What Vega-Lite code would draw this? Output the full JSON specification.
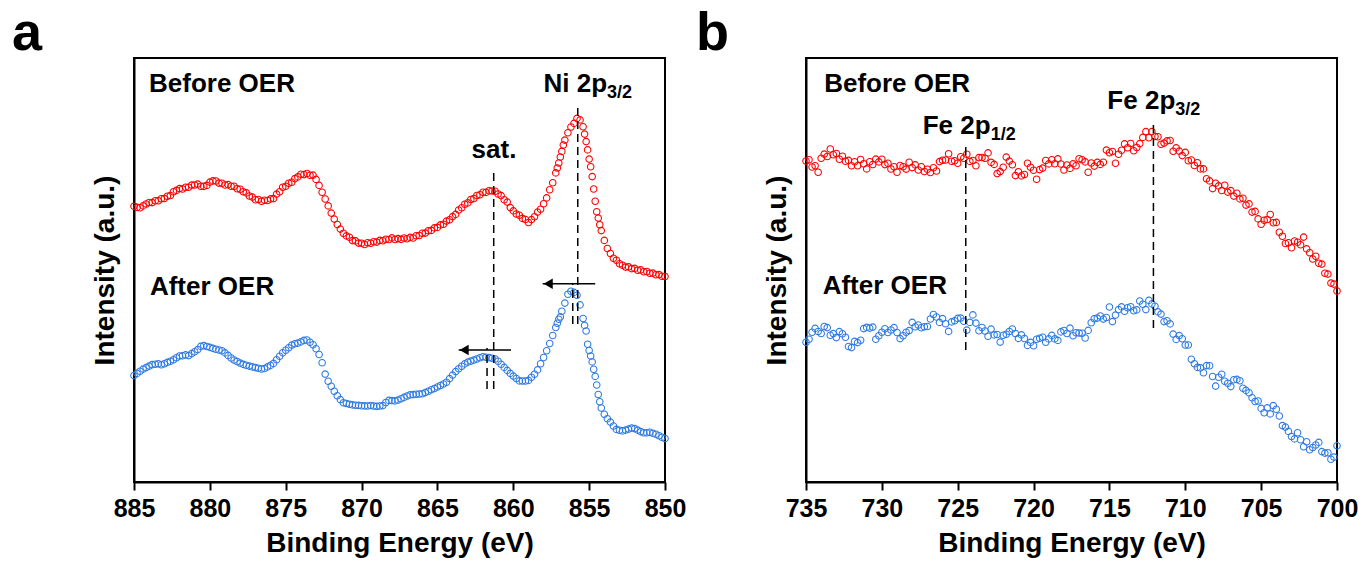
{
"$schema":"https://vega.github.io/schema/vega-lite/v6.json",
"padding":{"left":11,"top":6,"right":20,"bottom":2},
"spacing":141,
"bounds":"flush",
"config":{"view":{"stroke":"black","strokeWidth":2},"font":"Liberation Sans",
"axis":{"domainColor":"black","domainWidth":2,"tickColor":"black","tickWidth":2,"labelFont":"Liberation Sans","labelFontWeight":"bold","labelFontSize":25,"labelColor":"black","titleFont":"Liberation Sans","titleFontWeight":"bold","titleFontSize":28,"titleColor":"black","grid":false}},
"datasets":{
"niB":[{"x":885,"y":275.8},{"x":884.8,"y":274.6},{"x":884.6,"y":274.2},{"x":884.4,"y":276.1},{"x":884.2,"y":278},{"x":884,"y":279.5},{"x":883.8,"y":279.4},{"x":883.6,"y":281.3},{"x":883.4,"y":281.2},{"x":883.2,"y":283.3},{"x":883,"y":283.5},{"x":882.8,"y":285.7},{"x":882.6,"y":286.5},{"x":882.4,"y":290.2},{"x":882.2,"y":291.6},{"x":882,"y":293.4},{"x":881.8,"y":293},{"x":881.6,"y":294.7},{"x":881.4,"y":294.8},{"x":881.2,"y":296.9},{"x":881,"y":297},{"x":880.8,"y":297.9},{"x":880.6,"y":295.7},{"x":880.4,"y":295.6},{"x":880.2,"y":296.6},{"x":880,"y":299.9},{"x":879.8,"y":301.1},{"x":879.6,"y":301},{"x":879.4,"y":298.9},{"x":879.2,"y":298.8},{"x":879,"y":297},{"x":878.8,"y":297.4},{"x":878.6,"y":295.8},{"x":878.4,"y":295.8},{"x":878.2,"y":293.3},{"x":878,"y":292.8},{"x":877.8,"y":290.2},{"x":877.6,"y":289.1},{"x":877.4,"y":286},{"x":877.2,"y":284.9},{"x":877,"y":282.3},{"x":876.8,"y":282.5},{"x":876.6,"y":280.8},{"x":876.4,"y":281.8},{"x":876.2,"y":281.5},{"x":876,"y":283.1},{"x":875.8,"y":283.4},{"x":875.6,"y":287.9},{"x":875.4,"y":290.3},{"x":875.2,"y":294.7},{"x":875,"y":295.8},{"x":874.8,"y":298.8},{"x":874.6,"y":299.8},{"x":874.4,"y":303.4},{"x":874.2,"y":305.1},{"x":874,"y":307.8},{"x":873.8,"y":307.4},{"x":873.6,"y":308.5},{"x":873.4,"y":306.7},{"x":873.2,"y":306.9},{"x":873,"y":302.6},{"x":872.8,"y":296.6},{"x":872.6,"y":289.7},{"x":872.4,"y":283},{"x":872.2,"y":276.1},{"x":872,"y":268.9},{"x":871.8,"y":262.9},{"x":871.6,"y":257.5},{"x":871.4,"y":252.9},{"x":871.2,"y":248.8},{"x":871,"y":246.1},{"x":870.8,"y":244.7},{"x":870.6,"y":241.4},{"x":870.4,"y":241.1},{"x":870.2,"y":238.9},{"x":870,"y":238.7},{"x":869.8,"y":237.5},{"x":869.6,"y":239.2},{"x":869.4,"y":238.7},{"x":869.2,"y":240.3},{"x":869,"y":239.9},{"x":868.8,"y":241.6},{"x":868.6,"y":241.2},{"x":868.4,"y":242.8},{"x":868.2,"y":242.5},{"x":868,"y":244.1},{"x":867.8,"y":242.5},{"x":867.6,"y":243.4},{"x":867.4,"y":242.6},{"x":867.2,"y":244},{"x":867,"y":243.3},{"x":866.8,"y":244.6},{"x":866.6,"y":244},{"x":866.4,"y":246.2},{"x":866.2,"y":246.5},{"x":866,"y":248.7},{"x":865.8,"y":248.9},{"x":865.6,"y":251.2},{"x":865.4,"y":251.6},{"x":865.2,"y":254.1},{"x":865,"y":254.6},{"x":864.8,"y":257.1},{"x":864.6,"y":257.7},{"x":864.4,"y":260.9},{"x":864.2,"y":262.2},{"x":864,"y":265.4},{"x":863.8,"y":267.6},{"x":863.6,"y":272},{"x":863.4,"y":274.3},{"x":863.2,"y":277.8},{"x":863,"y":279.1},{"x":862.8,"y":282.5},{"x":862.6,"y":283.5},{"x":862.4,"y":286.5},{"x":862.2,"y":287.2},{"x":862,"y":289.8},{"x":861.8,"y":289.6},{"x":861.6,"y":291.3},{"x":861.4,"y":291},{"x":861.2,"y":290.8},{"x":861,"y":288},{"x":860.8,"y":286.4},{"x":860.6,"y":282.3},{"x":860.4,"y":279.9},{"x":860.2,"y":274.4},{"x":860,"y":271.1},{"x":859.8,"y":268},{"x":859.6,"y":266.8},{"x":859.4,"y":263.6},{"x":859.2,"y":262.5},{"x":859,"y":259.5},{"x":858.8,"y":262.4},{"x":858.6,"y":265.2},{"x":858.4,"y":269.9},{"x":858.2,"y":272.8},{"x":858,"y":278.3},{"x":857.8,"y":284.1},{"x":857.6,"y":292.3},{"x":857.4,"y":299.3},{"x":857.2,"y":309.1},{"x":857.1,"y":314},{"x":857,"y":319},{"x":856.9,"y":325},{"x":856.8,"y":330.6},{"x":856.7,"y":337},{"x":856.6,"y":341.9},{"x":856.4,"y":349.2},{"x":856.2,"y":355},{"x":856,"y":358.6},{"x":855.8,"y":363.6},{"x":855.6,"y":362.1},{"x":855.4,"y":355.2},{"x":855.3,"y":347.9},{"x":855.2,"y":340.4},{"x":855.1,"y":332.1},{"x":855,"y":322.9},{"x":854.9,"y":315.2},{"x":854.8,"y":305.4},{"x":854.7,"y":293},{"x":854.6,"y":280.7},{"x":854.5,"y":270.2},{"x":854.4,"y":263.9},{"x":854.3,"y":257.3},{"x":854.2,"y":251.4},{"x":854,"y":241.6},{"x":853.8,"y":233.5},{"x":853.6,"y":228.5},{"x":853.4,"y":223.8},{"x":853.2,"y":221.8},{"x":853,"y":218.3},{"x":852.8,"y":216.8},{"x":852.6,"y":214.9},{"x":852.4,"y":215.1},{"x":852.2,"y":213.4},{"x":852,"y":213.6},{"x":851.8,"y":211.8},{"x":851.6,"y":212.1},{"x":851.4,"y":210.3},{"x":851.2,"y":210.5},{"x":851,"y":208.7},{"x":850.8,"y":208.9},{"x":850.6,"y":207.2},{"x":850.4,"y":207.4},{"x":850.2,"y":205.7},{"x":850,"y":205.5}],
"niA":[{"x":885,"y":106.5},{"x":884.8,"y":108.6},{"x":884.6,"y":110.8},{"x":884.4,"y":112.9},{"x":884.2,"y":114.4},{"x":884,"y":115.9},{"x":883.8,"y":117.4},{"x":883.6,"y":117.7},{"x":883.4,"y":118.2},{"x":883.2,"y":117.2},{"x":883,"y":118.3},{"x":882.8,"y":119.6},{"x":882.6,"y":120.8},{"x":882.4,"y":122.2},{"x":882.2,"y":124.2},{"x":882,"y":126},{"x":881.8,"y":126.3},{"x":881.6,"y":127.1},{"x":881.4,"y":126.4},{"x":881.2,"y":128.4},{"x":881,"y":130.2},{"x":880.8,"y":132.4},{"x":880.6,"y":135.6},{"x":880.4,"y":136.4},{"x":880.2,"y":135.5},{"x":880,"y":134.6},{"x":879.8,"y":133.6},{"x":879.6,"y":132.8},{"x":879.4,"y":132},{"x":879.2,"y":131.2},{"x":879,"y":129.1},{"x":878.8,"y":126.6},{"x":878.6,"y":124},{"x":878.4,"y":122},{"x":878.2,"y":120.5},{"x":878,"y":118.9},{"x":877.8,"y":117.6},{"x":877.6,"y":116.8},{"x":877.4,"y":115.9},{"x":877.2,"y":115.1},{"x":877,"y":114.4},{"x":876.8,"y":113.7},{"x":876.6,"y":113},{"x":876.4,"y":113.5},{"x":876.2,"y":115.1},{"x":876,"y":116.6},{"x":875.8,"y":118.6},{"x":875.6,"y":122.2},{"x":875.4,"y":125.7},{"x":875.2,"y":129.2},{"x":875,"y":131.8},{"x":874.8,"y":134.3},{"x":874.6,"y":136.9},{"x":874.4,"y":138.2},{"x":874.2,"y":138.9},{"x":874,"y":140.1},{"x":873.8,"y":141.6},{"x":873.6,"y":142},{"x":873.4,"y":139.8},{"x":873.2,"y":137.3},{"x":873,"y":133.3},{"x":872.8,"y":127.5},{"x":872.6,"y":119.3},{"x":872.4,"y":107.9},{"x":872.2,"y":100.8},{"x":872,"y":95.7},{"x":871.8,"y":90.7},{"x":871.6,"y":86.2},{"x":871.4,"y":82.4},{"x":871.2,"y":79.2},{"x":871,"y":78.5},{"x":870.8,"y":77.8},{"x":870.6,"y":77.1},{"x":870.4,"y":76.8},{"x":870.2,"y":76.6},{"x":870,"y":76.3},{"x":869.8,"y":76.1},{"x":869.6,"y":76},{"x":869.4,"y":76.5},{"x":869.2,"y":76},{"x":869,"y":75.6},{"x":868.8,"y":76},{"x":868.6,"y":76.4},{"x":868.4,"y":79.5},{"x":868.2,"y":81.6},{"x":868,"y":81.4},{"x":867.8,"y":81.1},{"x":867.6,"y":81.9},{"x":867.4,"y":83.2},{"x":867.2,"y":84.6},{"x":867,"y":86},{"x":866.8,"y":87.1},{"x":866.6,"y":87.4},{"x":866.4,"y":87.7},{"x":866.2,"y":88},{"x":866,"y":88.3},{"x":865.8,"y":89.4},{"x":865.6,"y":90.8},{"x":865.4,"y":92.2},{"x":865.2,"y":93.5},{"x":865,"y":95},{"x":864.8,"y":96.5},{"x":864.6,"y":98},{"x":864.4,"y":99.8},{"x":864.2,"y":103.4},{"x":864,"y":106.9},{"x":863.8,"y":110.4},{"x":863.6,"y":113.2},{"x":863.4,"y":115.7},{"x":863.2,"y":118.1},{"x":863,"y":119.9},{"x":862.8,"y":120.9},{"x":862.6,"y":121.9},{"x":862.4,"y":123},{"x":862.2,"y":124.2},{"x":862,"y":125.3},{"x":861.8,"y":124.8},{"x":861.6,"y":124.4},{"x":861.4,"y":123.7},{"x":861.2,"y":123},{"x":861,"y":120.7},{"x":860.8,"y":117.7},{"x":860.6,"y":114.6},{"x":860.4,"y":111.6},{"x":860.2,"y":108.6},{"x":860,"y":105.9},{"x":859.8,"y":103.5},{"x":859.6,"y":101.1},{"x":859.4,"y":101},{"x":859.2,"y":101},{"x":859,"y":101.6},{"x":858.8,"y":104.7},{"x":858.6,"y":107.7},{"x":858.4,"y":112.1},{"x":858.2,"y":118.3},{"x":858,"y":124.5},{"x":857.8,"y":131.3},{"x":857.6,"y":138.5},{"x":857.4,"y":146.5},{"x":857.2,"y":154.5},{"x":857.1,"y":158.7},{"x":857,"y":162.7},{"x":856.9,"y":165.1},{"x":856.8,"y":170.8},{"x":856.6,"y":178.9},{"x":856.4,"y":187.8},{"x":856.2,"y":190.8},{"x":856,"y":189.6},{"x":855.8,"y":186.8},{"x":855.6,"y":177.1},{"x":855.4,"y":163.5},{"x":855.3,"y":156.6},{"x":855.2,"y":151},{"x":855.1,"y":137.8},{"x":855,"y":131.5},{"x":854.9,"y":126},{"x":854.8,"y":120.1},{"x":854.7,"y":112.8},{"x":854.6,"y":105.6},{"x":854.5,"y":97},{"x":854.4,"y":87.5},{"x":854.3,"y":80.2},{"x":854.2,"y":74},{"x":854,"y":67.8},{"x":853.8,"y":63.2},{"x":853.6,"y":59.9},{"x":853.4,"y":56},{"x":853.2,"y":52.6},{"x":853,"y":51.8},{"x":852.8,"y":51.1},{"x":852.6,"y":51.9},{"x":852.4,"y":52.9},{"x":852.2,"y":53.9},{"x":852,"y":53.4},{"x":851.8,"y":51.9},{"x":851.6,"y":50.4},{"x":851.4,"y":49.3},{"x":851.2,"y":49.3},{"x":851,"y":49.8},{"x":850.8,"y":48.8},{"x":850.6,"y":47.8},{"x":850.4,"y":46.2},{"x":850.2,"y":44.7},{"x":850,"y":43.5}],
"feB":[{"x":735,"y":321},{"x":734.8,"y":322.3},{"x":734.6,"y":315},{"x":734.4,"y":316.2},{"x":734.2,"y":309.7},{"x":734,"y":323.8},{"x":733.8,"y":327.9},{"x":733.6,"y":325.5},{"x":733.4,"y":333},{"x":733.2,"y":327.3},{"x":733,"y":328.5},{"x":732.8,"y":322.7},{"x":732.6,"y":325.7},{"x":732.4,"y":320.7},{"x":732.2,"y":321.6},{"x":732,"y":316.2},{"x":731.8,"y":320.2},{"x":731.6,"y":316.2},{"x":731.4,"y":322.5},{"x":731.2,"y":318.3},{"x":731,"y":313.1},{"x":730.8,"y":320.2},{"x":730.6,"y":317.5},{"x":730.4,"y":322.9},{"x":730.2,"y":320.1},{"x":730,"y":322.7},{"x":729.8,"y":317.4},{"x":729.6,"y":318.7},{"x":729.4,"y":313},{"x":729.2,"y":315.3},{"x":729,"y":309.8},{"x":728.8,"y":316.5},{"x":728.6,"y":315.2},{"x":728.4,"y":312.9},{"x":728.2,"y":319.7},{"x":728,"y":314.4},{"x":727.8,"y":317.1},{"x":727.6,"y":312},{"x":727.4,"y":315.3},{"x":727.2,"y":310.5},{"x":727,"y":312.8},{"x":726.8,"y":309.5},{"x":726.6,"y":314.3},{"x":726.4,"y":311},{"x":726.2,"y":320.4},{"x":726,"y":321.7},{"x":725.8,"y":322},{"x":725.6,"y":328.2},{"x":725.4,"y":320.8},{"x":725.2,"y":321.3},{"x":725,"y":318.8},{"x":724.8,"y":325.2},{"x":724.6,"y":323.7},{"x":724.4,"y":327.7},{"x":724.2,"y":320.6},{"x":724,"y":321.5},{"x":723.8,"y":316.2},{"x":723.6,"y":324.4},{"x":723.4,"y":324.5},{"x":723.2,"y":323.8},{"x":723,"y":329.1},{"x":722.8,"y":319.6},{"x":722.6,"y":317.6},{"x":722.4,"y":308.4},{"x":722.2,"y":310.4},{"x":722,"y":314.7},{"x":721.8,"y":324.9},{"x":721.6,"y":320.9},{"x":721.4,"y":317.2},{"x":721.2,"y":306.4},{"x":721,"y":310.2},{"x":720.8,"y":306.1},{"x":720.6,"y":307.5},{"x":720.4,"y":318.7},{"x":720.2,"y":314.7},{"x":720,"y":311.7},{"x":719.8,"y":302.8},{"x":719.6,"y":312.4},{"x":719.4,"y":313.9},{"x":719.2,"y":321.5},{"x":719,"y":318.1},{"x":718.8,"y":322.2},{"x":718.6,"y":318.2},{"x":718.4,"y":323.1},{"x":718.2,"y":318},{"x":718,"y":312},{"x":717.8,"y":317},{"x":717.6,"y":313.6},{"x":717.4,"y":318.1},{"x":717.2,"y":316.2},{"x":717,"y":323.2},{"x":716.8,"y":322.2},{"x":716.6,"y":320.1},{"x":716.4,"y":309.8},{"x":716.2,"y":319},{"x":716,"y":315.9},{"x":715.8,"y":319.6},{"x":715.6,"y":317.6},{"x":715.4,"y":319.8},{"x":715.2,"y":331.9},{"x":715,"y":329.3},{"x":714.8,"y":330.5},{"x":714.6,"y":318.8},{"x":714.4,"y":327.7},{"x":714.2,"y":331.8},{"x":714,"y":338.1},{"x":713.8,"y":334.3},{"x":713.6,"y":338.5},{"x":713.4,"y":331.3},{"x":713.2,"y":334.5},{"x":713,"y":338.4},{"x":712.8,"y":344.6},{"x":712.6,"y":350.4},{"x":712.4,"y":344.2},{"x":712.2,"y":350.4},{"x":712,"y":345.5},{"x":711.8,"y":345.3},{"x":711.6,"y":337.8},{"x":711.4,"y":338.9},{"x":711.2,"y":341.1},{"x":711,"y":341.5},{"x":710.8,"y":330.8},{"x":710.6,"y":334.1},{"x":710.4,"y":330.9},{"x":710.2,"y":326.4},{"x":710,"y":329.6},{"x":709.8,"y":321.2},{"x":709.6,"y":322},{"x":709.4,"y":316.5},{"x":709.2,"y":319.2},{"x":709,"y":313.1},{"x":708.8,"y":313.1},{"x":708.6,"y":303.3},{"x":708.4,"y":301.1},{"x":708.2,"y":293.4},{"x":708,"y":298.7},{"x":707.8,"y":296.1},{"x":707.6,"y":291.5},{"x":707.4,"y":296.7},{"x":707.2,"y":289.9},{"x":707,"y":291.4},{"x":706.8,"y":285.9},{"x":706.6,"y":288.8},{"x":706.4,"y":283.1},{"x":706.2,"y":283.7},{"x":706,"y":276.9},{"x":705.8,"y":278.1},{"x":705.6,"y":269.9},{"x":705.4,"y":270.6},{"x":705.2,"y":263.1},{"x":705,"y":257.7},{"x":704.8,"y":261.7},{"x":704.6,"y":262.5},{"x":704.4,"y":267.5},{"x":704.2,"y":259.2},{"x":704,"y":259.6},{"x":703.8,"y":249.7},{"x":703.6,"y":245.7},{"x":703.4,"y":238.5},{"x":703.2,"y":239.2},{"x":703,"y":234.3},{"x":702.8,"y":241},{"x":702.6,"y":239.7},{"x":702.4,"y":237.3},{"x":702.2,"y":244.9},{"x":702,"y":233.1},{"x":701.8,"y":229.3},{"x":701.6,"y":223},{"x":701.4,"y":225.7},{"x":701.2,"y":218.8},{"x":701,"y":217.9},{"x":700.8,"y":208.7},{"x":700.6,"y":207.9},{"x":700.4,"y":198.9},{"x":700.2,"y":197.9},{"x":700,"y":191}],
"feA":[{"x":735,"y":139.7},{"x":734.8,"y":142.8},{"x":734.6,"y":149.7},{"x":734.4,"y":153.6},{"x":734.2,"y":150.5},{"x":734,"y":148.5},{"x":733.8,"y":155.5},{"x":733.6,"y":154.4},{"x":733.4,"y":146.8},{"x":733.2,"y":148.4},{"x":733,"y":144.4},{"x":732.8,"y":150.4},{"x":732.6,"y":148.3},{"x":732.4,"y":144.8},{"x":732.2,"y":135.5},{"x":732,"y":134.4},{"x":731.8,"y":140.6},{"x":731.6,"y":139.4},{"x":731.4,"y":141.8},{"x":731.2,"y":153.4},{"x":731,"y":154.6},{"x":730.8,"y":153.9},{"x":730.6,"y":154.9},{"x":730.4,"y":142.7},{"x":730.2,"y":146.2},{"x":730,"y":149.8},{"x":729.8,"y":153.3},{"x":729.6,"y":149.5},{"x":729.4,"y":152},{"x":729.2,"y":154.4},{"x":729,"y":149.5},{"x":728.8,"y":143.4},{"x":728.6,"y":146.3},{"x":728.4,"y":149.8},{"x":728.2,"y":151.4},{"x":728,"y":159.6},{"x":727.8,"y":155.3},{"x":727.6,"y":157},{"x":727.4,"y":154.3},{"x":727.2,"y":155.3},{"x":727,"y":155.5},{"x":726.8,"y":163},{"x":726.6,"y":167.5},{"x":726.4,"y":165},{"x":726.2,"y":159.6},{"x":726,"y":163.4},{"x":725.8,"y":158.3},{"x":725.6,"y":150.6},{"x":725.4,"y":160.1},{"x":725.2,"y":161.3},{"x":725,"y":163.6},{"x":724.8,"y":163.9},{"x":724.6,"y":160.7},{"x":724.4,"y":151.9},{"x":724.2,"y":159.6},{"x":724,"y":167.1},{"x":723.8,"y":158.9},{"x":723.6,"y":151.3},{"x":723.4,"y":154.5},{"x":723.2,"y":151},{"x":723,"y":145.7},{"x":722.8,"y":152.9},{"x":722.6,"y":147.1},{"x":722.4,"y":147.5},{"x":722.2,"y":139.9},{"x":722,"y":146.8},{"x":721.8,"y":147.8},{"x":721.6,"y":150.5},{"x":721.4,"y":153},{"x":721.2,"y":148.5},{"x":721,"y":143.6},{"x":720.8,"y":147.1},{"x":720.6,"y":143.5},{"x":720.4,"y":136.6},{"x":720.2,"y":139.6},{"x":720,"y":136.3},{"x":719.8,"y":142.7},{"x":719.6,"y":143.7},{"x":719.4,"y":144.7},{"x":719.2,"y":139.7},{"x":719,"y":143.1},{"x":718.8,"y":146.6},{"x":718.6,"y":143.1},{"x":718.4,"y":141.6},{"x":718.2,"y":150.1},{"x":718,"y":151.5},{"x":717.8,"y":148.5},{"x":717.6,"y":153.9},{"x":717.4,"y":146.3},{"x":717.2,"y":149.3},{"x":717,"y":149},{"x":716.8,"y":148.8},{"x":716.6,"y":144},{"x":716.4,"y":151.6},{"x":716.2,"y":159.3},{"x":716,"y":163.3},{"x":715.8,"y":163.9},{"x":715.6,"y":166},{"x":715.4,"y":162.9},{"x":715.2,"y":164.5},{"x":715,"y":175},{"x":714.8,"y":160.4},{"x":714.6,"y":166.9},{"x":714.4,"y":172.4},{"x":714.2,"y":175.1},{"x":714,"y":170.7},{"x":713.8,"y":174.3},{"x":713.6,"y":175.3},{"x":713.4,"y":171.2},{"x":713.2,"y":172.1},{"x":713,"y":181},{"x":712.8,"y":177.8},{"x":712.6,"y":172.4},{"x":712.4,"y":181.6},{"x":712.2,"y":178.1},{"x":712,"y":175.8},{"x":711.8,"y":170.1},{"x":711.6,"y":167.9},{"x":711.4,"y":160.4},{"x":711.2,"y":161.3},{"x":711,"y":158.1},{"x":710.8,"y":147.9},{"x":710.6,"y":142.6},{"x":710.4,"y":146.4},{"x":710.2,"y":143.3},{"x":710,"y":137},{"x":709.8,"y":137},{"x":709.6,"y":122.7},{"x":709.4,"y":118.2},{"x":709.2,"y":114.6},{"x":709,"y":114.1},{"x":708.8,"y":109.2},{"x":708.6,"y":116.4},{"x":708.4,"y":116.3},{"x":708.2,"y":105.5},{"x":708,"y":95.9},{"x":707.8,"y":104.7},{"x":707.6,"y":107.7},{"x":707.4,"y":100.8},{"x":707.2,"y":98.8},{"x":707,"y":95.4},{"x":706.8,"y":102.2},{"x":706.6,"y":102.6},{"x":706.4,"y":101.3},{"x":706.2,"y":93.8},{"x":706,"y":91.6},{"x":705.8,"y":89.3},{"x":705.6,"y":84.3},{"x":705.4,"y":80.5},{"x":705.2,"y":81},{"x":705,"y":73.6},{"x":704.8,"y":69.3},{"x":704.6,"y":74.1},{"x":704.4,"y":68.1},{"x":704.2,"y":76.4},{"x":704,"y":72.8},{"x":703.8,"y":66},{"x":703.6,"y":56.4},{"x":703.4,"y":54.9},{"x":703.2,"y":50.6},{"x":703,"y":45.5},{"x":702.8,"y":43.1},{"x":702.6,"y":49.3},{"x":702.4,"y":42.3},{"x":702.2,"y":35.3},{"x":702,"y":40.2},{"x":701.8,"y":32.2},{"x":701.6,"y":34.5},{"x":701.4,"y":37},{"x":701.2,"y":39.6},{"x":701,"y":30.4},{"x":700.8,"y":28.9},{"x":700.6,"y":29.3},{"x":700.4,"y":22.8},{"x":700.2,"y":24.9},{"x":700,"y":36.3}],
"labA":[{"x":884.01,"y":390,"t":"Before OER"},{"x":883.95,"y":187,"t":"After OER"}],
"satA":[{"x":861.27,"y":324,"t":"sat."}],
"mainA":[{"x":853.82,"y":390,"t":"Ni 2p"}],
"subA":[{"x":853.82,"y":384,"t":"3/2"}],
"dashA":[{"x":855.75,"y":158,"y2":379},{"x":856.08,"y":158,"y2":199},{"x":861.29,"y":93,"y2":314},{"x":861.73,"y":93,"y2":134}],
"arrA":[{"x":858.06,"x2":854.6,"y":198.3},{"x":863.6,"x2":860.15,"y":132}],
"headA":[{"x":857.7,"y":198.3},{"x":863.24,"y":132}],
"labB":[{"x":733.8,"y":390,"t":"Before OER"},{"x":733.9,"y":188,"t":"After OER"}],
"mainB":[{"x":722.83,"y":348,"t":"Fe 2p"},{"x":710.66,"y":373,"t":"Fe 2p"}],
"subB":[{"x":722.83,"y":342,"t":"1/2"},{"x":710.66,"y":367,"t":"3/2"}],
"dashB":[{"x":724.47,"y":132,"y2":338},{"x":712.1,"y":154,"y2":359}]
},
"hconcat":[
{"width":531,"height":424,
"title":{"text":"a","anchor":"start","frame":"group","fontSize":54,"fontWeight":"bold","font":"Liberation Sans","color":"black","dx":-122,"dy":51,"offset":5,"baseline":"alphabetic"},
"layer":[
{"data":{"name":"niB"},"mark":{"type":"point","shape":"circle","filled":false,"size":42,"strokeWidth":1.1,"color":"#ff0000","opacity":1},
"encoding":{"x":{"field":"x","type":"quantitative","scale":{"domain":[850,885],"reverse":true,"nice":false,"zero":false},
"axis":{"title":"Binding Energy (eV)","values":[850,852.5,855,857.5,860,862.5,865,867.5,870,872.5,875,877.5,880,882.5,885],"labelExpr":"datum.value % 5 === 0 ? datum.label : ''","tickSize":{"condition":{"test":"datum.value % 5 === 0","value":8},"value":4},"labelPadding":6,"titlePadding":8,"labelOverlap":false,"labelFlush":false,"format":"d"}},
"y":{"field":"y","type":"quantitative","scale":{"domain":[0,424],"nice":false,"zero":false},"axis":{"title":"Intensity (a.u.)","ticks":false,"labels":false,"titlePadding":15}}}},
{"data":{"name":"niA"},"mark":{"type":"point","shape":"circle","filled":false,"size":42,"strokeWidth":1.1,"color":"#2f7be2","opacity":1},
"encoding":{"x":{"field":"x","type":"quantitative"},"y":{"field":"y","type":"quantitative"}}},
{"data":{"name":"dashA"},"mark":{"type":"rule","color":"black","strokeWidth":1.5,"strokeDash":[8,5]},
"encoding":{"x":{"field":"x","type":"quantitative"},"y":{"field":"y","type":"quantitative"},"y2":{"field":"y2"}}},
{"data":{"name":"arrA"},"mark":{"type":"rule","color":"black","strokeWidth":1.5},
"encoding":{"x":{"field":"x","type":"quantitative"},"x2":{"field":"x2"},"y":{"field":"y","type":"quantitative"}}},
{"data":{"name":"headA"},"mark":{"type":"point","shape":"triangle-left","filled":true,"size":110,"color":"black","opacity":1},
"encoding":{"x":{"field":"x","type":"quantitative"},"y":{"field":"y","type":"quantitative"}}},
{"data":{"name":"labA"},"mark":{"type":"text","align":"left","baseline":"alphabetic","fontSize":26,"fontWeight":"bold","font":"Liberation Sans","color":"black"},
"encoding":{"x":{"field":"x","type":"quantitative"},"y":{"field":"y","type":"quantitative"},"text":{"field":"t"}}},
{"data":{"name":"satA"},"mark":{"type":"text","align":"center","baseline":"alphabetic","fontSize":26,"fontWeight":"bold","font":"Liberation Sans","color":"black"},
"encoding":{"x":{"field":"x","type":"quantitative"},"y":{"field":"y","type":"quantitative"},"text":{"field":"t"}}},
{"data":{"name":"mainA"},"mark":{"type":"text","align":"right","baseline":"alphabetic","fontSize":26,"fontWeight":"bold","font":"Liberation Sans","color":"black"},
"encoding":{"x":{"field":"x","type":"quantitative"},"y":{"field":"y","type":"quantitative"},"text":{"field":"t"}}},
{"data":{"name":"subA"},"mark":{"type":"text","align":"left","baseline":"alphabetic","fontSize":18,"fontWeight":"bold","font":"Liberation Sans","color":"black"},
"encoding":{"x":{"field":"x","type":"quantitative"},"y":{"field":"y","type":"quantitative"},"text":{"field":"t"}}}
]},
{"width":531,"height":424,
"title":{"text":"b","anchor":"start","frame":"group","fontSize":54,"fontWeight":"bold","font":"Liberation Sans","color":"black","dx":-110,"dy":51,"offset":5,"baseline":"alphabetic"},
"layer":[
{"data":{"name":"feB"},"mark":{"type":"point","shape":"circle","filled":false,"size":42,"strokeWidth":1.1,"color":"#ff0000","opacity":1},
"encoding":{"x":{"field":"x","type":"quantitative","scale":{"domain":[700,735],"reverse":true,"nice":false,"zero":false},
"axis":{"title":"Binding Energy (eV)","values":[700,702.5,705,707.5,710,712.5,715,717.5,720,722.5,725,727.5,730,732.5,735],"labelExpr":"datum.value % 5 === 0 ? datum.label : ''","tickSize":{"condition":{"test":"datum.value % 5 === 0","value":8},"value":4},"labelPadding":6,"titlePadding":8,"labelOverlap":false,"labelFlush":false,"format":"d"}},
"y":{"field":"y","type":"quantitative","scale":{"domain":[0,424],"nice":false,"zero":false},"axis":{"title":"Intensity (a.u.)","ticks":false,"labels":false,"titlePadding":15}}}},
{"data":{"name":"feA"},"mark":{"type":"point","shape":"circle","filled":false,"size":42,"strokeWidth":1.1,"color":"#2f7be2","opacity":1},
"encoding":{"x":{"field":"x","type":"quantitative"},"y":{"field":"y","type":"quantitative"}}},
{"data":{"name":"dashB"},"mark":{"type":"rule","color":"black","strokeWidth":1.5,"strokeDash":[8,5]},
"encoding":{"x":{"field":"x","type":"quantitative"},"y":{"field":"y","type":"quantitative"},"y2":{"field":"y2"}}},
{"data":{"name":"labB"},"mark":{"type":"text","align":"left","baseline":"alphabetic","fontSize":26,"fontWeight":"bold","font":"Liberation Sans","color":"black"},
"encoding":{"x":{"field":"x","type":"quantitative"},"y":{"field":"y","type":"quantitative"},"text":{"field":"t"}}},
{"data":{"name":"mainB"},"mark":{"type":"text","align":"right","baseline":"alphabetic","fontSize":26,"fontWeight":"bold","font":"Liberation Sans","color":"black"},
"encoding":{"x":{"field":"x","type":"quantitative"},"y":{"field":"y","type":"quantitative"},"text":{"field":"t"}}},
{"data":{"name":"subB"},"mark":{"type":"text","align":"left","baseline":"alphabetic","fontSize":18,"fontWeight":"bold","font":"Liberation Sans","color":"black"},
"encoding":{"x":{"field":"x","type":"quantitative"},"y":{"field":"y","type":"quantitative"},"text":{"field":"t"}}}
]}
]
}
